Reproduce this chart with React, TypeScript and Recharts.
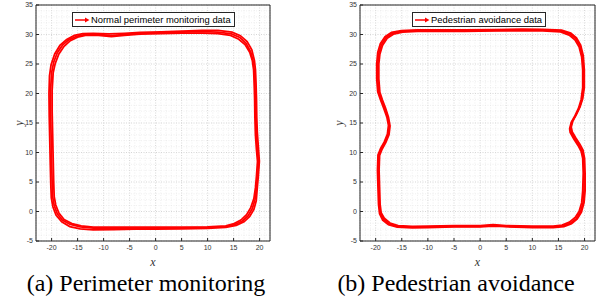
import React from 'react';
import {
  ScatterChart,
  Scatter,
  XAxis,
  YAxis,
  CartesianGrid,
  ReferenceLine,
  Legend,
  Label,
} from 'recharts';

type Pt = [number, number];

// x / y tick labels (MATLAB style axes)
const xTicks = [-20, -15, -10, -5, 0, 5, 10, 15, 20];
const yTicks = [-5, 0, 5, 10, 15, 20, 25, 30, 35];
const xDomain: [number, number] = [-23, 22];
const yDomain: [number, number] = [-5, 35];

// (a) perimeter monitoring, three laps
const perimLap1: Pt[] = [
  [0, -2.8], [5, -2.8], [10, -2.7], [13.5, -2.55], [15.3, -2.2], [16.7, -1.6], [17.8, -0.7], [18.6, 0.5],
  [19.1, 2], [19.4, 4], [19.6, 6], [19.8, 8], [19.6, 10], [19.4, 12.5], [19.3, 15], [19.2, 18], [19.1, 21],
  [19, 23.5], [18.8, 25.3], [18.3, 27], [17.4, 28.5], [16.2, 29.5], [14.6, 30.1], [12, 30.4], [9, 30.5],
  [5, 30.4], [1, 30.3], [-3, 30.2], [-6, 30], [-8.5, 29.8], [-11, 30], [-13.5, 30], [-15.2, 29.7],
  [-16.7, 29.1], [-17.9, 28.2], [-18.9, 26.9], [-19.6, 25.3], [-20, 23.5], [-20.2, 20.5], [-20.2, 17],
  [-20.1, 13], [-20, 9], [-19.9, 5], [-19.8, 2.5], [-19.5, 1], [-18.9, -0.4], [-17.9, -1.5], [-16.4, -2.2],
  [-14.5, -2.6], [-12, -2.8], [-8, -2.8], [-4, -2.8], [0, -2.8],
];
const perimLap2: Pt[] = [
  [0, -3.0], [5, -2.95], [10, -2.85], [13.5, -2.7], [15.5, -2.35], [17, -1.75], [18.1, -0.85], [18.9, 0.35],
  [19.35, 1.8], [19.55, 4], [19.75, 6], [19.95, 8.5], [19.75, 11], [19.55, 13.5], [19.45, 16], [19.4, 19], [19.3, 22],
  [19.2, 24], [19.0, 25.6], [18.5, 27.4], [17.6, 28.8], [16.3, 29.8], [14.7, 30.4], [12, 30.7], [9, 30.7],
  [5, 30.55], [1, 30.45], [-3, 30.35], [-6, 30.2], [-9, 30.1], [-12, 30.2], [-14, 30.15], [-15.6, 29.85],
  [-17.1, 29.15], [-18.4, 28.15], [-19.4, 26.7], [-20.1, 24.9], [-20.4, 23], [-20.5, 20], [-20.45, 16],
  [-20.35, 12], [-20.25, 8], [-20.15, 4.5], [-20.05, 2.3], [-19.75, 0.8], [-19.15, -0.6], [-18.05, -1.75],
  [-16.5, -2.55], [-14.5, -2.95], [-12, -3.1], [-8, -3.05], [-4, -3.0], [0, -3.0],
];
const perimLap3: Pt[] = [
  [0, -2.65], [5, -2.65], [10, -2.6], [13.5, -2.45], [15.1, -2.05], [16.4, -1.45], [17.5, -0.55], [18.3, 0.65],
  [18.9, 2.2], [19.2, 4], [19.4, 6], [19.6, 8.5], [19.4, 10.5], [19.2, 13], [19.1, 16], [19.05, 19], [18.95, 22],
  [18.85, 24], [18.6, 25.6], [18.1, 27], [17.2, 28.3], [16, 29.2], [14.4, 29.85], [12, 30.15], [9, 30.25],
  [5, 30.25], [1, 30.15], [-3, 30.05], [-6, 29.85], [-8.5, 29.65], [-11, 29.85], [-13.5, 29.85], [-15.0, 29.55],
  [-16.4, 28.95], [-17.6, 28.0], [-18.6, 26.7], [-19.3, 25.1], [-19.7, 23.5], [-19.9, 20.5], [-19.9, 17],
  [-19.8, 13], [-19.7, 9], [-19.6, 5], [-19.5, 2.5], [-19.2, 1.1], [-18.6, -0.25], [-17.6, -1.35], [-16.1, -2.05],
  [-14.3, -2.45], [-12, -2.65], [-8, -2.65], [-4, -2.65], [0, -2.65],
];

// (b) pedestrian avoidance, three laps
const avoidLap1: Pt[] = [
  [0, -2.5], [2.5, -2.35], [5, -2.5], [10, -2.6], [14, -2.6], [15.9, -2.45], [17.3, -2], [18.4, -1.2],
  [19.2, -0.1], [19.7, 1.4], [19.9, 3.5], [19.9, 6.5], [19.8, 9], [19.5, 10.3], [18.9, 11.3], [18.1, 12.4],
  [17.5, 13.4], [17.3, 14.2], [17.6, 15.2], [18.3, 16.3], [19, 17.6], [19.5, 19], [19.8, 21], [19.8, 24],
  [19.6, 26.3], [19.1, 28.1], [18.3, 29.3], [17.2, 30.1], [15.5, 30.6], [12, 30.75], [8, 30.8], [3, 30.7],
  [-3, 30.65], [-8, 30.65], [-12, 30.65], [-15, 30.55], [-16.8, 30.2], [-18, 29.5], [-18.9, 28.3],
  [-19.4, 26.8], [-19.6, 25], [-19.6, 22.5], [-19.4, 20.3], [-18.9, 19], [-18.3, 17.6], [-17.7, 16],
  [-17.4, 14.6], [-17.6, 13.1], [-18.2, 11.8], [-18.9, 10.7], [-19.4, 9.6], [-19.5, 7], [-19.4, 4],
  [-19.3, 1.2], [-19.1, -0.3], [-18.5, -1.3], [-17.4, -2.1], [-15.8, -2.5], [-13, -2.65], [-10, -2.6],
  [-5, -2.5], [0, -2.5],
];
const avoidLap2: Pt[] = [
  [0, -2.62], [2.5, -2.47], [5, -2.58], [10, -2.72], [14, -2.72], [16.05, -2.57], [17.5, -2.07], [18.6, -1.27],
  [19.4, -0.1], [19.9, 1.5], [20.1, 3.5], [20.1, 6.5], [20.0, 9], [19.7, 10.4], [19.1, 11.4], [18.3, 12.5],
  [17.65, 13.5], [17.45, 14.3], [17.75, 15.35], [18.45, 16.45], [19.15, 17.75], [19.65, 19.15], [19.95, 21], [19.95, 24],
  [19.75, 26.4], [19.25, 28.2], [18.45, 29.45], [17.35, 30.25], [15.6, 30.75], [12, 30.87], [8, 30.9], [3, 30.82],
  [-3, 30.77], [-8, 30.77], [-12, 30.77], [-15.1, 30.67], [-16.95, 30.35], [-18.2, 29.65], [-19.1, 28.45],
  [-19.6, 26.95], [-19.8, 25], [-19.8, 22.5], [-19.6, 20.3], [-19.1, 19], [-18.5, 17.6], [-17.85, 16],
  [-17.55, 14.6], [-17.75, 13.1], [-18.35, 11.8], [-19.05, 10.7], [-19.55, 9.6], [-19.65, 7], [-19.55, 4],
  [-19.45, 1.2], [-19.25, -0.37], [-18.65, -1.45], [-17.55, -2.25], [-15.9, -2.65], [-13, -2.77], [-10, -2.72],
  [-5, -2.62], [0, -2.62],
];
const avoidLap3: Pt[] = [
  [0, -2.4], [2.5, -2.25], [5, -2.4], [10, -2.5], [14, -2.5], [15.7, -2.3], [17.1, -1.8], [18.2, -1],
  [18.95, 0], [19.45, 1.5], [19.65, 3.5], [19.75, 6.5], [19.65, 9], [19.35, 10.2], [18.75, 11.2], [17.95, 12.3],
  [17.25, 13.4], [17.15, 14], [17.45, 15.1], [18.15, 16.2], [18.85, 17.5], [19.35, 19], [19.65, 21], [19.65, 24],
  [19.45, 26.2], [18.95, 27.9], [18.15, 29.1], [17.05, 29.9], [15.4, 30.45], [12, 30.62], [8, 30.67], [3, 30.6],
  [-3, 30.55], [-8, 30.55], [-12, 30.55], [-14.85, 30.42], [-16.6, 30.05], [-17.8, 29.35], [-18.7, 28.15],
  [-19.2, 26.65], [-19.4, 25], [-19.4, 22.5], [-19.2, 20.2], [-18.7, 18.9], [-18.1, 17.5], [-17.55, 16],
  [-17.25, 14.5], [-17.45, 13], [-18.05, 11.7], [-18.75, 10.6], [-19.25, 9.5], [-19.35, 7], [-19.25, 4],
  [-19.15, 1.2], [-18.95, -0.22], [-18.35, -1.15], [-17.25, -1.95], [-15.7, -2.38], [-13, -2.52], [-10, -2.47],
  [-5, -2.4], [0, -2.4],
];

const toRows = (lap: Pt[]) => lap.map(([x, y]) => ({ x, y }));

// minor grid every 1 unit
const minorX: number[] = [];
for (let v = xDomain[0]; v <= xDomain[1]; v++) if (v % 5 !== 0) minorX.push(v);
const minorY: number[] = [];
for (let v = yDomain[0]; v <= yDomain[1]; v++) if (v % 5 !== 0) minorY.push(v);

const AXIS = '#262626';
const RED = '#ff0000';
const tickFont = { fontSize: 7, fill: '#333', fontFamily: 'Liberation Sans, Arial, sans-serif' };
const labelFont = {
  fontFamily: '"Liberation Serif", "Times New Roman", serif',
  fontStyle: 'italic',
  fontSize: 12,
  fill: '#333',
};
const noShape = () => <g />;

interface PanelProps {
  laps: Pt[][];
  legendText: string;
  legendLeft: number;
  left: number;
  width: number;
  margin: { top: number; right: number; bottom: number; left: number };
  yLabelOffset: number;
}

const Panel = ({ laps, legendText, legendLeft, left, width, margin, yLabelOffset }: PanelProps) => {
  const renderLegend = () => (
    <div
      style={{
        display: 'flex',
        alignItems: 'center',
        height: 13,
        border: `1px solid ${AXIS}`,
        background: '#fff',
        padding: '0 3px 0 2px',
        fontFamily: 'Liberation Sans, Arial, sans-serif',
        fontSize: 9.4,
        color: '#000',
        whiteSpace: 'nowrap',
      }}
    >
      <svg width={15} height={8} style={{ marginRight: 1 }}>
        <line x1={0} y1={4} x2={11} y2={4} stroke={RED} strokeWidth={1.5} />
        <path d="M10,1.5 L14.5,4 L10,6.5 Z" fill={RED} />
      </svg>
      <span>{legendText}</span>
    </div>
  );

  return (
    <div style={{ position: 'absolute', left, top: 0 }}>
      <ScatterChart width={width} height={270} margin={margin}>
        {minorX.map((v) => (
          <ReferenceLine key={`mx${v}`} x={v} stroke="#e4e4e4" strokeDasharray="1 1.5" strokeWidth={0.6} />
        ))}
        {minorY.map((v) => (
          <ReferenceLine key={`my${v}`} y={v} stroke="#e4e4e4" strokeDasharray="1 1.5" strokeWidth={0.6} />
        ))}
        <CartesianGrid stroke="#c4c4c4" strokeDasharray="1 1.5" strokeWidth={0.7} />
        <XAxis
          type="number"
          dataKey="x"
          domain={xDomain}
          ticks={xTicks}
          allowDataOverflow
          height={20}
          tick={tickFont}
          tickSize={-3}
          tickMargin={7}
          stroke={AXIS}
          interval={0}
        >
          <Label value="x" position="insideBottom" offset={-5} style={labelFont} />
        </XAxis>
        <XAxis
          xAxisId="top"
          orientation="top"
          type="number"
          domain={xDomain}
          ticks={xTicks}
          allowDataOverflow
          height={5}
          tick={false}
          tickSize={-3}
          stroke={AXIS}
        />
        <YAxis
          type="number"
          dataKey="y"
          domain={yDomain}
          ticks={yTicks}
          allowDataOverflow
          width={30}
          tick={tickFont}
          tickSize={-3}
          tickMargin={6}
          stroke={AXIS}
          interval={0}
        >
          <Label
            value="y"
            angle={-90}
            position="insideLeft"
            offset={yLabelOffset}
            style={{ ...labelFont, textAnchor: 'middle' }}
          />
        </YAxis>
        <YAxis
          yAxisId="right"
          orientation="right"
          type="number"
          domain={yDomain}
          ticks={yTicks}
          allowDataOverflow
          width={10}
          tick={false}
          tickSize={-3}
          stroke={AXIS}
        />
        <Legend
          layout="horizontal"
          verticalAlign="middle"
          align="center"
          content={renderLegend}
          wrapperStyle={{ left: legendLeft, top: 12, width: 'auto', height: 'auto' }}
        />
        {laps.map((lap, i) => (
          <Scatter
            key={i}
            data={toRows(lap)}
            line={{ stroke: RED, strokeWidth: 1.8 }}
            lineType="joint"
            shape={noShape}
            isAnimationActive={false}
          />
        ))}
      </ScatterChart>
    </div>
  );
};

const captionStyle: React.CSSProperties = {
  position: 'absolute',
  top: 271,
  fontFamily: '"Liberation Serif", "Times New Roman", serif',
  fontSize: 24,
  lineHeight: '24px',
  color: '#000',
  textAlign: 'center',
  width: 300,
  whiteSpace: 'nowrap',
};

export default function App() {
  return (
    <div style={{ position: 'absolute', left: 0, top: 0, width: 607, height: 301, background: '#fff', overflow: 'hidden' }}>
      <Panel
        laps={[perimLap1, perimLap2, perimLap3]}
        legendText="Normal perimeter monitoring data"
        legendLeft={72}
        left={0}
        width={300}
        margin={{ top: 0, right: 20, bottom: 9, left: 6 }}
        yLabelOffset={13}
      />
      <Panel
        laps={[avoidLap1, avoidLap2, avoidLap3]}
        legendText="Pedestrian avoidance data"
        legendLeft={112}
        left={300}
        width={307}
        margin={{ top: 0, right: 2, bottom: 9, left: 30 }}
        yLabelOffset={9}
      />
      <div style={{ ...captionStyle, left: -4 }}>(a) Perimeter monitoring</div>
      <div style={{ ...captionStyle, left: 306 }}>(b) Pedestrian avoidance</div>
    </div>
  );
}
